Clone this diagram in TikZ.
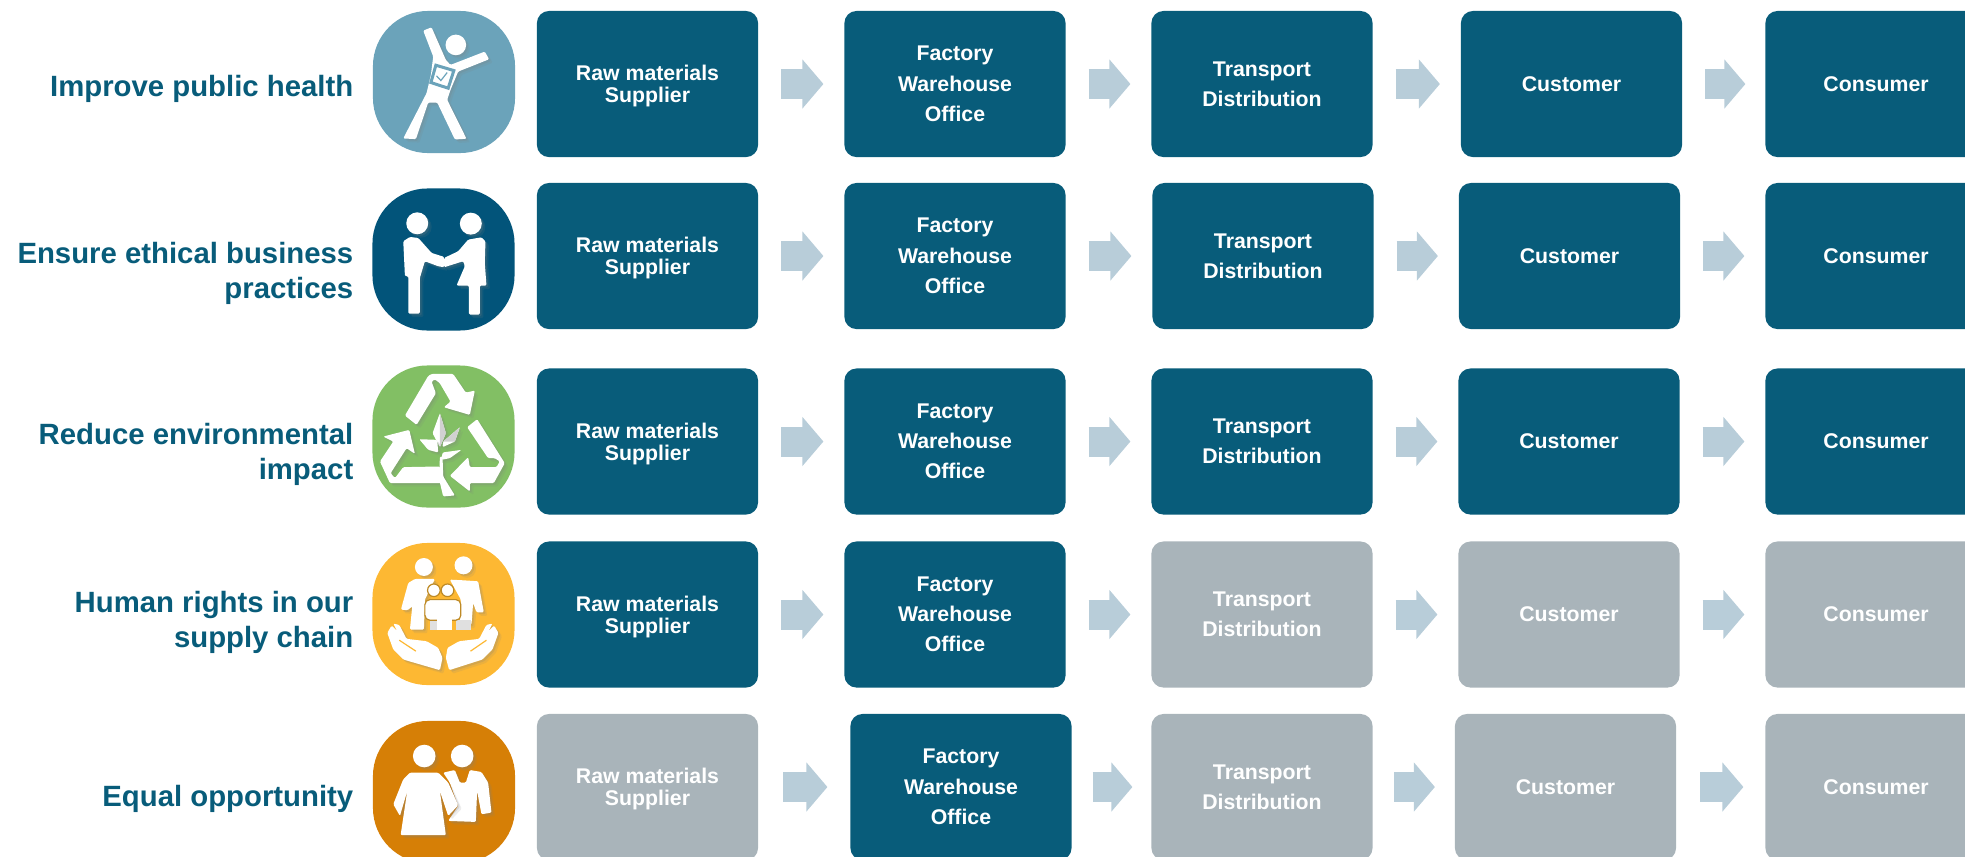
\documentclass[tikz,border=0pt]{standalone}
\usepackage{fontspec}
\setmainfont{Liberation Sans}
\usetikzlibrary{arrows.meta}
\usetikzlibrary{shadows}
\definecolor{tealbox}{HTML}{085C7A}
\definecolor{greybox}{HTML}{A9B4BA}
\definecolor{flowblue}{HTML}{B8CDD9}
\definecolor{healthblue}{HTML}{6BA3BA}
\definecolor{ethicblue}{HTML}{02547A}
\definecolor{envgreen}{HTML}{82BF64}
\definecolor{rightsyellow}{HTML}{FDB833}
\definecolor{equalorange}{HTML}{D67F06}
\newcommand{\rawlines}{\rule{0pt}{5.7pt}Raw materials\\Supplier}
\tikzset{
  stagebox/.style={rounded corners=.12cm, minimum width=2.21cm, minimum height=1.46cm, inner sep=0, outer sep=0, align=center, text=white, font=\bfseries\fontsize{6.05}{8.6}\selectfont},
  tealstage/.style={stagebox, fill=tealbox},
  greystage/.style={stagebox, fill=greybox},
  tightstage/.style={font=\bfseries\fontsize{6.05}{6.3}\selectfont},
  iconbox/.style={rounded corners=.55cm, minimum width=1.42cm, minimum height=1.42cm, inner sep=0, outer sep=0},
  goal/.style={anchor=east, align=right, inner sep=0, text=tealbox, font=\bfseries\fontsize{8.34}{10}\selectfont},
  flow/.style={flowblue, line width=.3cm, -{Triangle[length=.21cm,width=.48cm]}, shorten <=.23cm, shorten >=.21cm},
  glyph/.style={fill=white, rounded corners=.012cm, drop shadow={shadow xshift=.035cm,shadow yshift=-.035cm,opacity=.14}, drop shadow={shadow xshift=.018cm,shadow yshift=-.018cm,opacity=.22}},
}
\begin{document}
\begin{tikzpicture}[x=.01cm,y=-.01cm]
\useasboundingbox (0,0) rectangle (1965,857);
% goals
\node[goal] (goalhealth) at (354,88.5) {Improve public health};
\node[goal] (goalethics) at (354,273.5) {Ensure ethical business\\practices};
\node[goal] (goalenv) at (354,454.5) {Reduce environmental\\impact};
\node[goal] (goalrights) at (354,622.5) {Human rights in our\\supply chain};
\node[goal] (goalequal) at (354,798.5) {Equal opportunity};
% icon backgrounds
\node[iconbox, fill=healthblue] (iconhealth) at (444,82) {};
\node[iconbox, fill=ethicblue] (iconethics) at (443.5,259.5) {};
\node[iconbox, fill=envgreen] (iconenv) at (443.5,436.5) {};
\node[iconbox, fill=rightsyellow] (iconrights) at (443.5,614) {};
\node[iconbox, fill=equalorange] (iconequal) at (444,792) {};
% row 1
\node[tealstage, tightstage] (rawa) at (647.5,84) {\rawlines};
\node[tealstage] (factorya) at (955,84) {Factory\\Warehouse\\Office};
\node[tealstage] (transporta) at (1262,84) {Transport\\Distribution};
\node[tealstage] (customera) at (1571.5,84) {Customer};
\node[tealstage] (consumera) at (1876,84) {Consumer};
% row 2
\node[tealstage, tightstage] (rawb) at (647.5,256) {\rawlines};
\node[tealstage] (factoryb) at (955,256) {Factory\\Warehouse\\Office};
\node[tealstage] (transportb) at (1263,256) {Transport\\Distribution};
\node[tealstage] (customerb) at (1569.5,256) {Customer};
\node[tealstage] (consumerb) at (1876,256) {Consumer};
% row 3
\node[tealstage, tightstage] (rawc) at (647.5,441.5) {\rawlines};
\node[tealstage] (factoryc) at (955,441.5) {Factory\\Warehouse\\Office};
\node[tealstage] (transportc) at (1262,441.5) {Transport\\Distribution};
\node[tealstage] (customerc) at (1569,441.5) {Customer};
\node[tealstage] (consumerc) at (1876,441.5) {Consumer};
% row 4
\node[tealstage, tightstage] (rawd) at (647.5,614.5) {\rawlines};
\node[tealstage] (factoryd) at (955,614.5) {Factory\\Warehouse\\Office};
\node[greystage] (transportd) at (1262,614.5) {Transport\\Distribution};
\node[greystage] (customerd) at (1569,614.5) {Customer};
\node[greystage] (consumerd) at (1876,614.5) {Consumer};
% row 5
\node[greystage, tightstage] (rawe) at (647.5,787) {\rawlines};
\node[tealstage] (factorye) at (961,787) {Factory\\Warehouse\\Office};
\node[greystage] (transporte) at (1262,787) {Transport\\Distribution};
\node[greystage] (customere) at (1565.5,787) {Customer};
\node[greystage] (consumere) at (1876,787) {Consumer};
% arrows
\draw[flow] (rawa) -- (factorya);
\draw[flow] (factorya) -- (transporta);
\draw[flow] (transporta) -- (customera);
\draw[flow, shorten >=.2cm] (customera) -- (consumera);
\draw[flow] (rawb) -- (factoryb);
\draw[flow] (factoryb) -- (transportb);
\draw[flow] (transportb) -- (customerb);
\draw[flow] (customerb) -- (consumerb);
\draw[flow] (rawc) -- (factoryc);
\draw[flow] (factoryc) -- (transportc);
\draw[flow] (transportc) -- (customerc);
\draw[flow] (customerc) -- (consumerc);
\draw[flow] (rawd) -- (factoryd);
\draw[flow] (factoryd) -- (transportd);
\draw[flow] (transportd) -- (customerd);
\draw[flow] (customerd) -- (consumerd);
\draw[flow, shorten <=.25cm, shorten >=.23cm] (rawe) -- (factorye);
\draw[flow, shorten <=.21cm, shorten >=.19cm] (factorye) -- (transporte);
\draw[flow, shorten <=.215cm, shorten >=.2cm] (transporte) -- (customere);
\draw[flow, shorten <=.24cm, shorten >=.22cm] (customere) -- (consumere);
% glyphs of rows 1 and 2
\begin{scope}[shift={(360,0)},x=.00333cm,y=-.00333cm]
\fill[glyph] (288,135) circle (31);
\fill[glyph] (190,92)--(215,82)--(258,180)--(272,195)--(375,155)--(388,178)--(295,215)--(272,270)--(262,300)--(320,417)--(285,419)--(232,308)--(205,308)--(168,418)--(130,416)--(200,280)--(213,225)--(220,170)--cycle;
\draw[healthblue, line width=.03cm] (228,196)--(282,212)--(265,265)--(213,248)--cycle;
\draw[healthblue, line width=.012cm] (230,228)--(243,242)--(262,218);
\fill[glyph] (172,671) circle (33);
\fill[glyph] (333,672) circle (33);
\fill[glyph] (130,725)--(150,712)--(175,715)--(215,760)--(253,772)--(253,803)--(235,800)--(195,785)--(180,835)--(180,942)--(145,942)--(145,830)--(135,830)--cycle;
\fill[glyph] (253,775)--(295,755)--(325,720)--(365,713)--(377,725)--(375,790)--(380,858)--(360,858)--(360,945)--(327,945)--(327,858)--(290,858)--(315,800)--(310,785)--(253,803)--cycle;
\end{scope}
% glyphs of rows 3, 4 and 5
\begin{scope}[shift={(360,350)},x=.00333cm,y=-.00333cm]
\fill[glyph] (135,197)--(205,78)--(215,72)--(280,72)--(318,128)--(345,122)--(330,195)--(252,172)--(272,155)--(240,100)--(225,88)--(215,95)--(228,130)--(170,225)--cycle;
\fill[glyph] (322,232)--(352,208)--(435,340)--(402,400)--(330,400)--(330,425)--(270,378)--(325,322)--(330,352)--(410,352)--(420,335)--(405,325)--(385,325)--cycle;
\fill[glyph] (60,335)--(100,275)--(70,260)--(148,240)--(165,312)--(140,295)--(92,370)--(105,385)--(130,352)--(240,350)--(250,400)--(90,400)--cycle;
\fill[glyph] (240,320)--(248,320)--(250,380)--(285,437)--(250,440)--(238,390)--cycle;
\fill[glyph] (240,190)--(258,250)--(240,292)--(218,250)--cycle;
\fill[glyph] (250,275)--(300,232)--(285,275)--(248,292)--cycle;
\fill[glyph] (178,268)--(232,270)--(235,308)--(205,300)--cycle;
\fill[glyph] (248,308)--(305,300)--(270,325)--(245,330)--cycle;
\fill[black!18] (240,190)--(258,250)--(240,292)--cycle;
\fill[black!18] (250,275)--(300,232)--(285,275)--cycle;
\fill[glyph] (192,652) circle (27);
\fill[glyph] (311,647) circle (27);
\fill[glyph] (123,780)--(145,700)--(165,688)--(225,688)--(195,750)--(192,840)--(150,840)--(157,770)--(143,782)--cycle;
\fill[glyph] (270,690)--(310,692)--(355,695)--(372,788)--(350,788)--(340,760)--(335,825)--(300,825)--(303,750)--cycle;
\fill[black!12] (210,810) rectangle (232,842);
\fill[black!12] (288,810) rectangle (335,842);
\draw[fill=white, draw=rightsyellow!75!black, line width=.012cm] (222,722) circle (19);
\draw[fill=white, draw=rightsyellow!75!black, line width=.012cm] (263,722) circle (19);
\draw[fill=white, draw=rightsyellow!75!black, line width=.012cm, rounded corners=.05cm] (195,750) rectangle (303,812);
\fill[white] (232,805) rectangle (275,842);
\fill[glyph] (82,850)--(95,828)--(112,845)--(100,822)--(118,826)--(140,868)--(200,875)--(235,895)--(248,925)--(240,962)--(130,930)--(100,900)--cycle;
\fill[glyph] (416,850)--(403,828)--(386,845)--(398,822)--(380,826)--(358,868)--(298,875)--(263,895)--(258,925)--(268,962)--(368,930)--(398,900)--cycle;
\draw[rightsyellow, line width=.012cm] (118,872)--(168,905);
\draw[rightsyellow, line width=.012cm] (380,872)--(332,905);
\fill[glyph] (193,1220) circle (34);
\fill[glyph] (307,1220) circle (34);
\fill[glyph] (250,1270)--(285,1262)--(300,1300)--(318,1300)--(330,1262)--(365,1268)--(385,1300)--(395,1390)--(365,1395)--(352,1325)--(348,1418)--(265,1415)--(295,1370)--(270,1300)--cycle;
\fill[glyph] (150,1270)--(235,1270)--(265,1300)--(295,1368)--(265,1400)--(240,1325)--(258,1458)--(122,1458)--(142,1325)--(120,1400)--(100,1365)--(130,1290)--cycle;
\end{scope}
\end{tikzpicture}
\end{document}
